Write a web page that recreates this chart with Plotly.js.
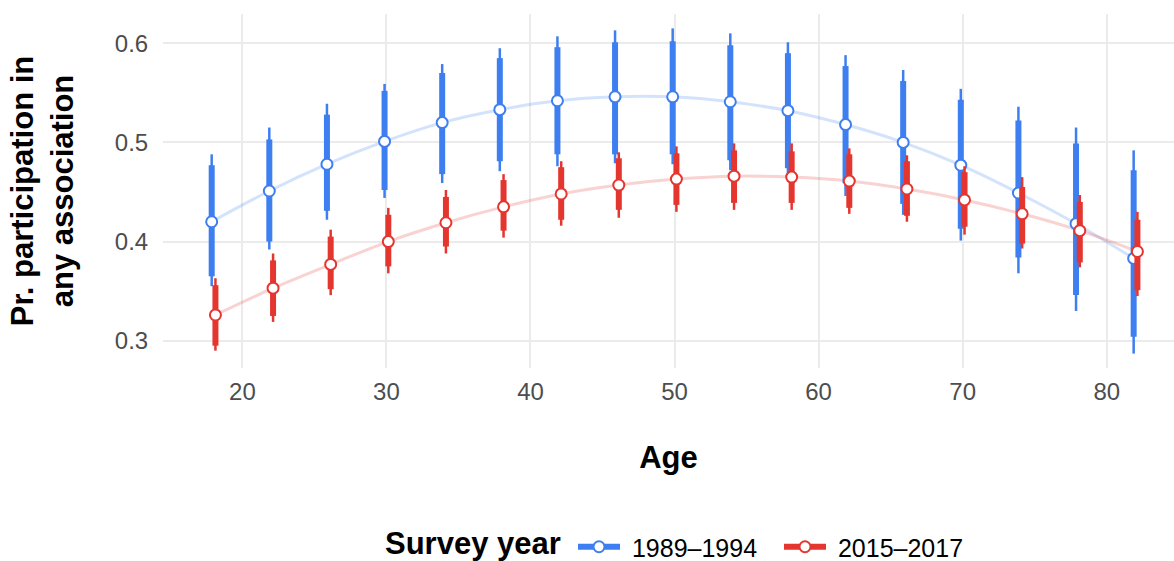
<!DOCTYPE html>
<html>
<head>
<meta charset="utf-8">
<script src="https://cdn.plot.ly/plotly-3.0.1.min.js"></script>
<style>html,body{margin:0;padding:0;background:#fff;}#chart{width:1174px;height:561px;}</style>
</head>
<body>
<div id="chart"></div>
<script>
const ages = [18,22,26,30,34,38,42,46,50,54,58,62,66,70,74,78,82];
const xTicks = [20,30,40,50,60,70,80];
const yTicks = [0.3,0.4,0.5,0.6];
const seriesNames = ['1989\u20131994','2015\u20132017'];
const legendTitle = 'Survey year';

// 1989–1994
const oldEst     = [0.420,0.451,0.478,0.501,0.520,0.533,0.542,0.546,0.546,0.541,0.532,0.518,0.500,0.477,0.449,0.418,0.383];
const oldInnerLo = [0.365,0.400,0.431,0.452,0.468,0.481,0.488,0.488,0.488,0.482,0.474,0.459,0.438,0.413,0.384,0.346,0.304];
const oldInnerHi = [0.477,0.503,0.528,0.552,0.570,0.585,0.596,0.601,0.602,0.598,0.590,0.577,0.562,0.543,0.522,0.499,0.472];
const oldOuterLo = [0.355,0.392,0.422,0.444,0.459,0.471,0.476,0.479,0.478,0.472,0.465,0.446,0.427,0.401,0.368,0.330,0.287];
const oldOuterHi = [0.488,0.515,0.539,0.559,0.579,0.595,0.607,0.613,0.615,0.610,0.601,0.588,0.573,0.554,0.536,0.515,0.492];

// 2015–2017
const newEst     = [0.326,0.353,0.377,0.400,0.419,0.435,0.448,0.457,0.463,0.466,0.465,0.461,0.453,0.442,0.428,0.411,0.390];
const newInnerLo = [0.295,0.325,0.352,0.375,0.395,0.411,0.422,0.432,0.437,0.439,0.439,0.434,0.426,0.415,0.398,0.379,0.351];
const newInnerHi = [0.356,0.381,0.405,0.427,0.445,0.462,0.475,0.484,0.489,0.492,0.491,0.488,0.481,0.470,0.455,0.440,0.422];
const newOuterLo = [0.290,0.319,0.346,0.368,0.388,0.404,0.416,0.424,0.430,0.432,0.432,0.428,0.420,0.407,0.393,0.374,0.345];
const newOuterHi = [0.363,0.388,0.412,0.434,0.452,0.468,0.481,0.490,0.496,0.499,0.499,0.494,0.487,0.476,0.465,0.447,0.430];

const BLUE = '#3d7ef0', RED = '#e5352f';
const BLUE_L = 'rgba(61,126,240,0.22)', RED_L = 'rgba(229,53,47,0.22)';
const DODGE = 0.13;
const FONT = 'Liberation Sans, Arial, Helvetica, sans-serif';

const xOld = ages.map(a => a - DODGE);
const xNew = ages.map(a => a + DODGE);

function segs(xs, lo, hi){
  const x = [], y = [];
  for (let i = 0; i < xs.length; i++){ x.push(xs[i], xs[i], null); y.push(lo[i], hi[i], null); }
  return {x, y};
}
function intervalTrace(xs, lo, hi, color, w){
  const s = segs(xs, lo, hi);
  return {x: s.x, y: s.y, mode: 'lines', line: {color, width: w}, showlegend: false, hoverinfo: 'skip', connectgaps: false};
}
function lineTrace(xs, ys, color){
  return {x: xs, y: ys, mode: 'lines', line: {color, width: 3, shape: 'spline', smoothing: 1}, showlegend: false, hoverinfo: 'skip'};
}
function pointTrace(xs, ys, color, name){
  return {x: xs, y: ys, mode: 'markers', name, marker: {size: 11, color: '#fff', line: {color, width: 2}}, showlegend: false};
}
function legendTrace(color, name){
  return {x: [null], y: [null], mode: 'lines+markers', name: '&nbsp;' + name, line: {color, width: 6},
          marker: {size: 11, color: '#fff', line: {color, width: 2}}, showlegend: true};
}

const data = [
  lineTrace(xOld, oldEst, BLUE_L),
  lineTrace(xNew, newEst, RED_L),
  intervalTrace(xOld, oldOuterLo, oldOuterHi, BLUE, 2.5),
  intervalTrace(xOld, oldInnerLo, oldInnerHi, BLUE, 6),
  pointTrace(xOld, oldEst, BLUE, seriesNames[0]),
  intervalTrace(xNew, newOuterLo, newOuterHi, RED, 2.5),
  intervalTrace(xNew, newInnerLo, newInnerHi, RED, 6),
  pointTrace(xNew, newEst, RED, seriesNames[1]),
  legendTrace(BLUE, seriesNames[0]),
  legendTrace(RED, seriesNames[1])
];

const layout = {
  width: 1174, height: 561,
  margin: {l: 163, r: 0, t: 14, b: 193},
  paper_bgcolor: '#fff', plot_bgcolor: '#fff',
  font: {family: FONT, color: '#4d4d4d'},
  showlegend: true,
  xaxis: {
    range: [14.49, 84.67], tickvals: xTicks, ticktext: xTicks.map(String),
    showgrid: true, gridcolor: '#ebebeb', gridwidth: 2, zeroline: false, showline: false,
    ticks: 'outside', ticklen: 2, tickcolor: 'rgba(0,0,0,0)',
    tickfont: {size: 24, color: '#4d4d4d', family: FONT},
    title: {text: '<b>Age</b>', font: {size: 31, color: '#000', family: FONT}, standoff: 42},
    automargin: false, fixedrange: true
  },
  yaxis: {
    range: [0.2725, 0.6295], tickvals: yTicks, ticktext: yTicks.map(v => v.toFixed(1)),
    showgrid: true, gridcolor: '#ebebeb', gridwidth: 2, zeroline: false, showline: false,
    ticks: 'outside', ticklen: 9, tickcolor: 'rgba(0,0,0,0)',
    tickfont: {size: 24, color: '#4d4d4d', family: FONT},
    title: {text: '<b>Pr. participation in<br>any association</b>', font: {size: 31, color: '#000', family: FONT}, standoff: 31},
    automargin: false, fixedrange: true
  },
  legend: {
    orientation: 'h', x: (573 - 163) / 1011, xanchor: 'left', yref: 'container', y: (561 - 547) / 561, yanchor: 'middle',
    font: {size: 25, color: '#000', family: FONT},
    itemwidth: 42, entrywidth: 149, entrywidthmode: 'pixels',
    bgcolor: 'rgba(0,0,0,0)', traceorder: 'normal'
  },
  annotations: [{
    text: '<b>' + legendTitle + '</b>', xref: 'paper', yref: 'paper',
    x: (383 - 163) / 1011, xanchor: 'left', y: (368 - 543) / 354, yanchor: 'middle',
    showarrow: false, font: {size: 31, color: '#000', family: FONT}
  }]
};

Plotly.newPlot('chart', data, layout, {displayModeBar: false, staticPlot: true});
</script>
</body>
</html>
